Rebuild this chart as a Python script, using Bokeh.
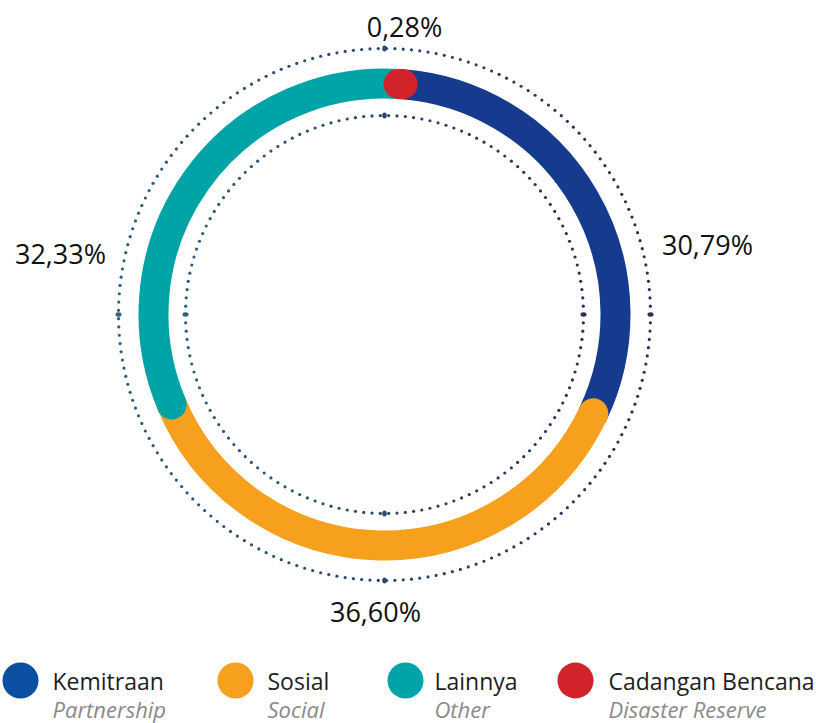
import numpy as np
from bokeh.plotting import figure
from bokeh.models import Range1d, Label
from bokeh.core.properties import value
from bokeh.embed import file_html
from bokeh.resources import INLINE

# ---- data ----
categories = ["Kemitraan", "Sosial", "Lainnya", "Cadangan Bencana"]
subtitles = ["Partnership", "Social", "Other", "Disaster Reserve"]
shares = [30.79, 36.60, 32.33, 0.28]
labels = ["30,79%", "36,60%", "32,33%", "0,28%"]
ring_colors = ["#163b8e", "#f6a01e", "#00a4a7", "#d2232a"]
legend_colors = ["#0b4ea2", "#f6a01e", "#00a4a7", "#d2232a"]

# clockwise order from the top of the ring
ring_order = ["Cadangan Bencana", "Kemitraan", "Sosial", "Lainnya"]
# drawing order (later items overlap earlier ones)
draw_order = ["Kemitraan", "Sosial", "Lainnya", "Cadangan Bencana"]

# ---- layout (screen-like coordinates; y is flipped below) ----
W, H = 816, 723
FONT = "Open Sans"
cx, cy = 384, 314
R_RING, RING_W = 231, 30
R_OUT, R_IN = 266, 199
START_DEG = 3.5
label_pos = {"Kemitraan": (707, 244), "Sosial": (375, 611),
             "Lainnya": (60, 253), "Cadangan Bencana": (404, 26)}
legend_circle_x = [20, 235, 405, 575]
legend_text_x = [52, 267, 434, 608]
legend_y = 680


def Y(y):
    return H - y


p = figure(width=W, height=H, output_backend="svg", toolbar_location=None,
           x_range=Range1d(0, W), y_range=Range1d(0, H),
           x_axis_location=None, y_axis_location=None, min_border=0)
p.outline_line_color = None
p.grid.visible = False
p.background_fill_color = "white"

# ---- dotted guide circles ----
c0 = np.array([0x2e, 0x5e, 0x80])
c1 = np.array([0x2c, 0x30, 0x56])


def mix(t):
    return ["#%02x%02x%02x" % tuple((c0 + (c1 - c0) * tt).astype(int)) for tt in t]


def dotted(r, n, size):
    th = np.linspace(0, 2 * np.pi, n, endpoint=False)
    p.scatter(cx + r * np.cos(th), Y(cy) + r * np.sin(th), size=size,
              color=mix((np.cos(th) + 1) / 2), line_color=None)
    ang = np.array([0, np.pi / 2, np.pi, 3 * np.pi / 2])
    p.ellipse(cx + r * np.cos(ang), Y(cy) + r * np.sin(ang),
              width=[6, 4.5, 6, 4.5], height=[4.5, 6, 4.5, 6],
              color=mix((np.cos(ang) + 1) / 2), line_color=None)


dotted(R_OUT, 201, 3.2)
dotted(R_IN, 150, 3.2)

# ---- ring segments ----
share_of = dict(zip(categories, shares))
color_of = dict(zip(categories, ring_colors))
start = {}
acc = START_DEG
for c in ring_order:
    deg = share_of[c] * 3.6
    start[c] = (acc, acc + deg)
    acc += deg

for c in draw_order:
    a0, a1 = start[c]
    p.arc(x=[cx], y=[Y(cy)], radius=R_RING,
          start_angle=[np.deg2rad(90 - a0)], end_angle=[np.deg2rad(90 - a1)],
          direction="clock", line_width=RING_W, line_color=color_of[c],
          line_cap="round")

# ---- value labels ----
for c, lab in zip(categories, labels):
    x, y = label_pos[c]
    p.add_layout(Label(x=x, y=Y(y), text=lab, text_font=FONT, text_font_size="27px",
                       text_color="#111111", text_align="center", text_baseline="middle"))

# ---- legend ----
p.scatter(legend_circle_x, [Y(legend_y)] * 4, size=36, color=legend_colors, line_color=None)
p.text(legend_text_x, [Y(legend_y)] * 4, text=categories, text_font=value(FONT),
       text_font_size="23px", text_color="#1e1e1e", text_baseline="middle")
p.text(legend_text_x, [Y(legend_y + 28)] * 4, text=subtitles, text_font=value(FONT),
       text_font_size="22px", text_font_style="italic", text_color="#8a8a8a",
       text_baseline="middle")

open("out.html", "w").write(file_html(p, INLINE))
